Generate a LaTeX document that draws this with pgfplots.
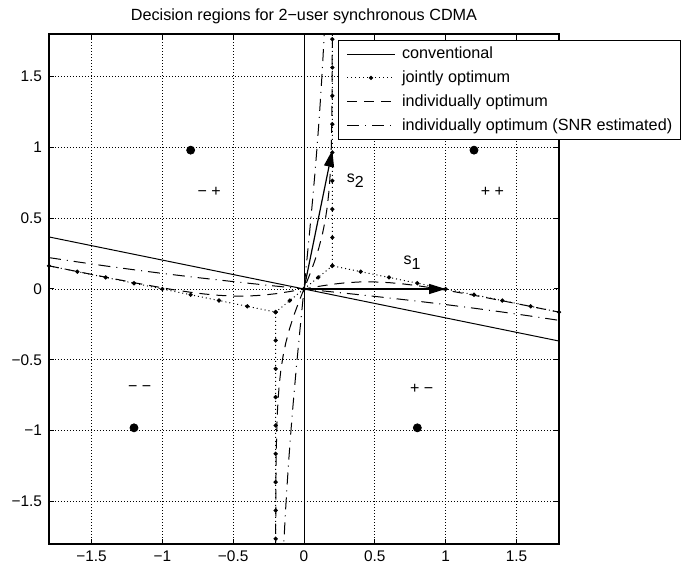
\documentclass[border=0pt]{standalone}
\usepackage{fontspec}
\setmainfont{Liberation Sans}
\usepackage{pgfplots}
\pgfplotsset{compat=1.18}
\usetikzlibrary{arrows.meta}

% decision boundaries, one pixel of the reference = 0.5pt
\tikzset{
  conv/.style={black, line width=0.5pt},
  jo/.style={black, line width=0.5pt, dash pattern=on 0.5pt off 1.5pt,
             mark=*, mark size=0.8pt, mark options={solid}},
  io/.style={black, line width=0.5pt, dash pattern=on 5pt off 3.5pt},
  ios/.style={black, line width=0.5pt, dash pattern=on 6pt off 3pt on 0.5pt off 3pt},
  lab/.style={font=\fontsize{8}{9}\selectfont, inner sep=0pt},
}

\begin{document}
\begin{tikzpicture}
\begin{axis}[
  name=ax,
  width=255pt, height=255pt, scale only axis,
  xmin=-1.8, xmax=1.8, ymin=-1.8, ymax=1.8,
  xtick={-1.5,-1,-0.5,0,0.5,1,1.5},
  ytick={-1.5,-1,-0.5,0,0.5,1,1.5},
  xticklabels={−1.5,−1,−0.5,0,0.5,1,1.5},
  yticklabels={−1.5,−1,−0.5,0,0.5,1,1.5},
  tick align=inside, major tick length=2.5pt,
  every tick/.style={black, line width=0.5pt},
  axis line style={line width=0.6pt},
  grid=major,
  grid style={black, line width=0.4pt, dash pattern=on 0.4pt off 1.1pt},
  tick label style={font=\fontsize{7.7}{8}\selectfont},
  title={Decision regions for 2−user synchronous CDMA},
  every axis title/.style={at={(0.5,1)}, anchor=base, yshift=6.6pt,
    font=\fontsize{8.1}{9}\selectfont},
  legend style={at={(0.5667,0.988)}, anchor=north west, draw=black,
    line width=0.5pt, fill=white, inner xsep=4pt, inner ysep=2.5pt,
    row sep=3.4pt, column sep=3.3pt, font=\fontsize{8.1}{9}\selectfont,
    nodes={inner sep=0pt, text height=6.5pt, text depth=2pt}},
  legend cell align=left,
  legend image code/.code={\draw[mark repeat=2,mark phase=2,#1]
    plot coordinates {(0pt,0pt) (12pt,0pt) (24pt,0pt)};},
]

% conventional
\addplot[conv] coordinates {(0,-1.8) (0,1.8)};
\addlegendentry{conventional}
\addplot[conv, forget plot] coordinates {(-1.8,0.3673) (1.8,-0.3673)};

% jointly optimum
\addplot[jo] coordinates {
  (0.2,1.9633) (0.2,1.7633) (0.2,1.5633) (0.2,1.3633) (0.2,1.1633)
  (0.2,0.9633) (0.2,0.7633) (0.2,0.5633) (0.2,0.3633) (0.2,0.1633)
  (0.4,0.1224) (0.6,0.0816) (0.8,0.0408) (1.0,0) (1.2,-0.0408)
  (1.4,-0.0816) (1.6,-0.1224) (1.8,-0.1633)};
\addlegendentry{jointly optimum}
\addplot[jo, forget plot] coordinates {(0,0) (0.1,0.0816) (0.2,0.1633)};
\addplot[jo, forget plot] coordinates {(0,0) (-0.1,-0.0816) (-0.2,-0.1633)};
\addplot[jo, forget plot] coordinates {
  (-1.8,0.1633) (-1.6,0.1224) (-1.4,0.0816) (-1.2,0.0408) (-1.0,0)
  (-0.8,-0.0408) (-0.6,-0.0816) (-0.4,-0.1224) (-0.2,-0.1633)
  (-0.2,-0.3633) (-0.2,-0.5633) (-0.2,-0.7633) (-0.2,-0.9633)
  (-0.2,-1.1633) (-0.2,-1.3633) (-0.2,-1.5633) (-0.2,-1.7633) (-0.2,-1.9633)};

% individually optimum
\addplot[io] coordinates {
  (-1.8,0.1633) (-1.6,0.1232) (-1.4,0.0833) (-1.2,0.0445) (-1.0,0.0081)
  (-0.9,-0.0085) (-0.8,-0.0233) (-0.7,-0.0357) (-0.6,-0.0449) (-0.5,-0.0499)
  (-0.4,-0.0499) (-0.3,-0.0444) (-0.2,-0.0334) (-0.1,-0.0179) (0,0)
  (0.1,0.0179) (0.2,0.0334) (0.3,0.0444) (0.4,0.0499) (0.5,0.0499)
  (0.6,0.0449) (0.7,0.0357) (0.8,0.0233) (0.9,0.0085) (1.0,-0.0081)
  (1.2,-0.0445) (1.4,-0.0833) (1.6,-0.1232) (1.8,-0.1633)};
\addlegendentry{individually optimum}
\addplot[io, forget plot] coordinates {
  (-0.1998,-1.847) (-0.1997,-1.796) (-0.1993,-1.592) (-0.1984,-1.388)
  (-0.1964,-1.1844) (-0.1921,-0.9812) (-0.1883,-0.8799) (-0.1828,-0.7790)
  (-0.1750,-0.6786) (-0.1640,-0.5788) (-0.1489,-0.4798) (-0.1289,-0.3819)
  (-0.1035,-0.2850) (-0.0727,-0.1893) (-0.0376,-0.0944) (0,0)
  (0.0376,0.0944) (0.0727,0.1893) (0.1035,0.2850) (0.1289,0.3819)
  (0.1489,0.4798) (0.1640,0.5788) (0.1750,0.6786) (0.1828,0.7790)
  (0.1883,0.8799) (0.1921,0.9812) (0.1964,1.1844) (0.1984,1.388)
  (0.1993,1.592) (0.1997,1.796) (0.1998,1.847)};

% individually optimum, SNR estimated
\addplot[ios] coordinates {
  (-1.8,0.2214) (-1.6,0.1913) (-1.4,0.1626) (-1.2,0.1356) (-1.0,0.1100)
  (-0.8,0.0860) (-0.6,0.0632) (-0.4,0.0415) (-0.2,0.0205) (0,0)
  (0.2,-0.0205) (0.4,-0.0415) (0.6,-0.0632) (0.8,-0.0860) (1.0,-0.1100)
  (1.2,-0.1356) (1.4,-0.1626) (1.6,-0.1913) (1.8,-0.2214)};
\addlegendentry{individually optimum (SNR estimated)}
\addplot[ios, forget plot] coordinates {
  (-0.1477,-1.9086) (-0.1430,-1.8075) (-0.1326,-1.6056) (-0.1206,-1.4040)
  (-0.1072,-1.2026) (-0.0922,-1.0016) (-0.0758,-0.8009) (-0.0581,-0.6004)
  (-0.0394,-0.4001) (-0.0199,-0.2000) (0,0)
  (0.0199,0.2000) (0.0394,0.4001) (0.0581,0.6004) (0.0758,0.8009)
  (0.0922,1.0016) (0.1072,1.2026) (0.1206,1.4040) (0.1326,1.6056)
  (0.1430,1.8075) (0.1477,1.9086)};

% signatures
\addplot[black, line width=0.6pt, -{Triangle[length=8.3pt, width=5pt]}, forget plot]
  coordinates {(0,0) (1,0)};
\addplot[black, line width=0.6pt, -{Triangle[length=8.3pt, width=5pt]}, forget plot]
  coordinates {(0,0) (0.2,0.98)};

% noiseless received points
\addplot[only marks, mark=*, mark size=2pt, black, forget plot]
  coordinates {(1.2,0.98) (-0.8,0.98) (0.8,-0.98) (-1.2,-0.98)};

\node[lab, anchor=base west] at (axis cs:0.70,0.17) {s\raisebox{-2.5pt}{1}};
\node[lab, anchor=base west] at (axis cs:0.30,0.75) {s\raisebox{-2.5pt}{2}};
\node[lab] at (axis cs:-0.67,0.685) {− +};
\node[lab] at (axis cs:1.33,0.685) {+ +};
\node[lab] at (axis cs:-1.16,-0.706) {− −};
\node[lab] at (axis cs:0.83,-0.706) {+ −};
\end{axis}
\path (ax.south west) ++(-24.5pt,-11.5pt) rectangle ([shift={(68.5pt,17pt)}]ax.north east);
\end{tikzpicture}
\end{document}
